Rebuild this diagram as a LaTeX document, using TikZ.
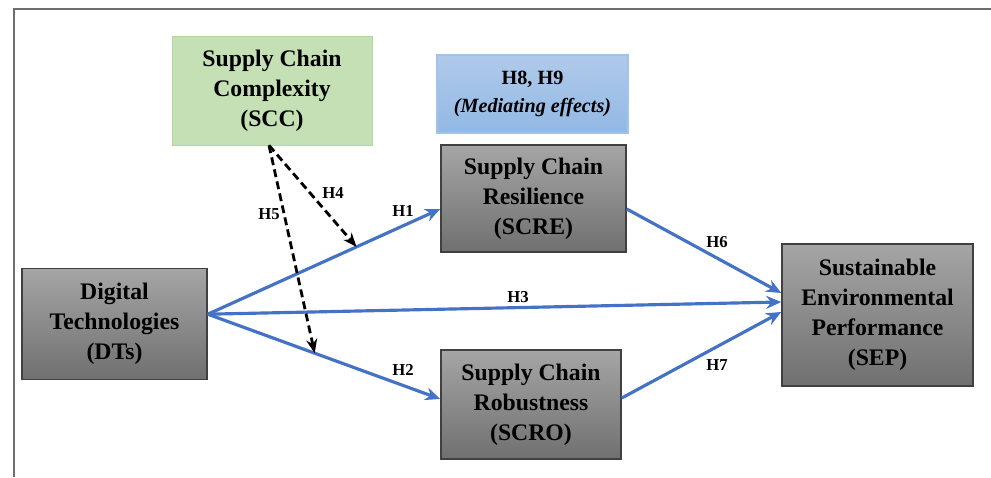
\documentclass[tikz,border=0pt]{standalone}
\usepackage{fontspec}
\setmainfont{Liberation Serif}
\usetikzlibrary{arrows.meta}
\definecolor{boxgraytop}{RGB}{165,165,165}
\definecolor{boxgraybot}{RGB}{112,112,112}
\definecolor{boxline}{RGB}{64,64,64}
\definecolor{sccfill}{RGB}{197,224,180}
\definecolor{sccline}{RGB}{178,214,156}
\definecolor{medtop}{RGB}{176,202,234}
\definecolor{medbot}{RGB}{146,184,228}
\definecolor{medline}{RGB}{160,196,234}
\definecolor{pathblue}{RGB}{68,114,196}
\definecolor{framegray}{RGB}{110,110,110}
\begin{document}
\begin{tikzpicture}
	[
	x=0.02cm, y=-0.02cm,
	construct/.style={draw = boxline, line width=0.9pt, top color=boxgraytop, bottom color=boxgraybot, shape = rectangle, inner sep=0pt, align=center, font=\fontsize{13.5}{17}\selectfont\bfseries},
	moderator/.style={draw = sccline, fill = sccfill, shape = rectangle, inner sep=0pt, align=center, font=\fontsize{13.5}{17}\selectfont\bfseries},
	mediation/.style={draw = medline, line width=0.8pt, top color=medtop, bottom color=medbot, shape = rectangle, inner sep=0pt, align=center, font=\fontsize{11.5}{16}\selectfont\bfseries},
	path/.style={draw = pathblue, line width=1.8pt, -{Stealth[length=0.3cm, width=0.26cm]}},
	modpath/.style={draw = black, line width=1.6pt, dash pattern=on 4.5pt off 2.5pt, -{Stealth[length=0.28cm, width=0.22cm]}},
	hyp/.style={font=\fontsize{9.5}{11}\selectfont\bfseries, inner sep=1pt}
	]
	\useasboundingbox (0,0) rectangle (991,477);
	\draw[framegray, line width=1.1pt] (14,477) -- (14,9) -- (991,9);
	
	% Constructs
	\node[construct, minimum width=3.7cm, minimum height=2.22cm](DT) at (114.5, 324){Digital\\Technologies\\(DTs)};
	\node[moderator, minimum width=4cm, minimum height=2.18cm](SCC) at (272, 90.5){Supply Chain\\Complexity\\(SCC)};
	\node[mediation, minimum width=3.82cm, minimum height=1.56cm](MED) at (532.5, 94){H8, H9\\\textit{(Mediating effects)}};
	\node[construct, minimum width=3.7cm, minimum height=2.14cm](SCRE) at (533.5, 198.5){Supply Chain\\Resilience\\(SCRE)};
	\node[construct, minimum width=3.6cm, minimum height=2.18cm](SCRO) at (531, 404.5){Supply Chain\\Robustness\\(SCRO)};
	\node[construct, minimum width=3.82cm, minimum height=2.84cm](SEP) at (877.5, 315){Sustainable\\Environmental\\Performance\\(SEP)};
	
	% Direct paths
	\draw[path] (DT.6) -- coordinate[pos=0.64](m1) ([yshift=-0.21cm]SCRE.west);
	\draw[path] (DT.6) -- coordinate[pos=0.46](m2) ([yshift=0.11cm]SCRO.west);
	\draw[path] (DT.6) -- ([yshift=0.26cm]SEP.west);
	\draw[path] ([yshift=-0.21cm]SCRE.east) -- ([yshift=0.44cm]SEP.west);
	\draw[path] ([yshift=0.13cm]SCRO.east) -- ([yshift=0.06cm]SEP.west);
	
	% Moderating paths
	\draw[modpath] ([xshift=-0.06cm]SCC.south) -- (m1);
	\draw[modpath] ([xshift=-0.06cm]SCC.south) -- (m2);
	
	% Hypotheses
	\node[hyp](h1) at (403, 211){H1};
	\node[hyp](h2) at (403, 370){H2};
	\node[hyp](h3) at (518, 297){H3};
	\node[hyp](h4) at (333, 193){H4};
	\node[hyp](h5) at (269, 214){H5};
	\node[hyp](h6) at (717, 242){H6};
	\node[hyp](h7) at (717, 365){H7};
\end{tikzpicture}
\end{document}
